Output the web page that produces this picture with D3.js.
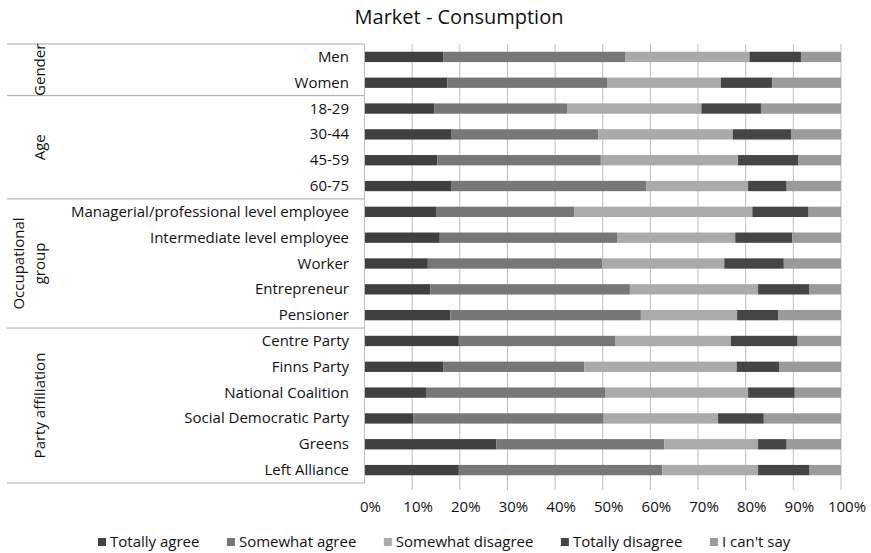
<!DOCTYPE html>
<html><head><meta charset="utf-8">
<script src="https://cdn.jsdelivr.net/npm/d3@7/dist/d3.min.js"></script>
<style>body{margin:0;background:#fff}svg{display:block}text{font-family:"Open Sans",sans-serif;fill:#111}</style>
</head><body><div id="chart"></div>
<script>
const categories = ["Men","Women","18-29","30-44","45-59","60-75",
  "Managerial/professional level employee","Intermediate level employee","Worker","Entrepreneur","Pensioner",
  "Centre Party","Finns Party","National Coalition","Social Democratic Party","Greens","Left Alliance"];
const seriesNames = ["Totally agree","Somewhat agree","Somewhat disagree","Totally disagree","I can't say"];
const totallyAgree     = [16.5,17.4,14.7,18.3,15.3,18.3,15.0,15.8,13.3,13.8,18.0,19.8,16.5,12.9,10.2,27.7,19.8];
const somewhatAgree    = [38.3,33.5,27.8,30.8,34.3,40.9,29.0,37.2,36.6,41.9,40.0,32.9,29.6,37.7,40.0,35.2,42.7];
const somewhatDisagree = [26.0,23.9,28.2,28.2,28.8,21.3,37.4,24.8,25.6,26.9,20.2,24.2,32.0,29.9,24.0,19.7,20.1];
const totallyDisagree  = [10.8,10.8,12.5,12.2,12.6,8.1,11.8,12.0,12.5,10.8,8.6,14.0,9.0,9.8,9.6,6.0,10.8];
const cantSay          = [8.4,14.4,16.8,10.5,9.0,11.4,6.8,10.2,12.0,6.6,13.2,9.1,12.9,9.7,16.2,11.4,6.6];
const groups = [
  {name:["Gender"], start:0, end:1},
  {name:["Age"], start:2, end:5},
  {name:["Occupational","group"], start:6, end:10},
  {name:["Party affiliation"], start:11, end:16}
];
const tickValues = [0,10,20,30,40,50,60,70,80,90,100];
const colors = ["#404040","#777777","#aaaaaa","#454545","#9a9a9a"];

const W=871,H=553;
const svg=d3.select("#chart").append("svg").attr("width",W).attr("height",H);
const x=d3.scaleLinear().domain([0,100]).range([364.5,841]);
const y=d3.scaleBand().domain(categories).range([44,483]).paddingInner(0.6).paddingOuter(0.3);

const stackData = categories.map((c,i)=>{
  const v=[totallyAgree[i],somewhatAgree[i],somewhatDisagree[i],totallyDisagree[i],cantSay[i]];
  const tot=d3.sum(v); const o={cat:c};
  seriesNames.forEach((s,j)=>o[s]=v[j]*100/tot); return o;
});
const stacked = d3.stack().keys(seriesNames)(stackData);

svg.append("text").attr("x",459).attr("y",24).attr("text-anchor","middle").style("font-size","20px").text("Market - Consumption");

// gridlines
const grid = svg.append("g");
tickValues.forEach(t=>{
  grid.append("line").attr("x1",x(t)).attr("x2",x(t)).attr("y1",44).attr("y2",t===0?483:490)
    .attr("stroke","#bdbdbd").attr("stroke-width",1);
});

// bars
svg.append("g").selectAll("g").data(stacked).join("g").attr("fill",(d,i)=>colors[i])
  .selectAll("rect").data(d=>d).join("rect")
  .attr("x",d=>x(d[0])).attr("width",d=>x(d[1])-x(d[0]))
  .attr("y",d=>y(d.data.cat)).attr("height",y.bandwidth());

// category labels
svg.append("g").selectAll("text").data(categories).join("text")
  .attr("x",349).attr("y",d=>y(d)+y.bandwidth()/2+5).attr("text-anchor","end")
  .style("font-size","15px").text(d=>d);

// group lines
const lineYs=[44];
groups.forEach(g=>lineYs.push(y(categories[g.end])-y.step()*y.paddingInner()/2+y.step()));
lineYs.forEach(v=>svg.append("line").attr("x1",7).attr("x2",364.5).attr("y1",v).attr("y2",v).attr("stroke","#a8a8a8"));
svg.append("line").attr("x1",364.5).attr("x2",364.5).attr("y1",44).attr("y2",483).attr("stroke","#bdbdbd");

// group labels
groups.forEach((g,gi)=>{
  const top=lineYs[gi], bot=lineYs[gi+1], cy=(top+bot)/2;
  const n=g.name.length;
  g.name.forEach((nm,k)=>{
    const cx = 40 - (n-1-k)*21 + 5;
    svg.append("text").attr("transform",`translate(${cx},${cy}) rotate(-90)`)
      .attr("text-anchor","middle").style("font-size","15px").text(nm);
  });
});

// x tick labels
svg.append("g").selectAll("text").data(tickValues).join("text")
  .attr("x",d=>x(d)+6).attr("y",512).attr("text-anchor","middle")
  .style("font-size","15px").text(d=>d+"%");

// legend (sequential layout)
const leg=svg.append("g");
let lx=98;
seriesNames.forEach((s,i)=>{
  leg.append("rect").attr("x",lx).attr("y",538).attr("width",8).attr("height",8).attr("fill",colors[i]);
  const t=leg.append("text").attr("x",lx+12).attr("y",547).style("font-size","15px").text(s);
  lx += 12 + t.node().getComputedTextLength() + 27.5;
});
</script></body></html>
